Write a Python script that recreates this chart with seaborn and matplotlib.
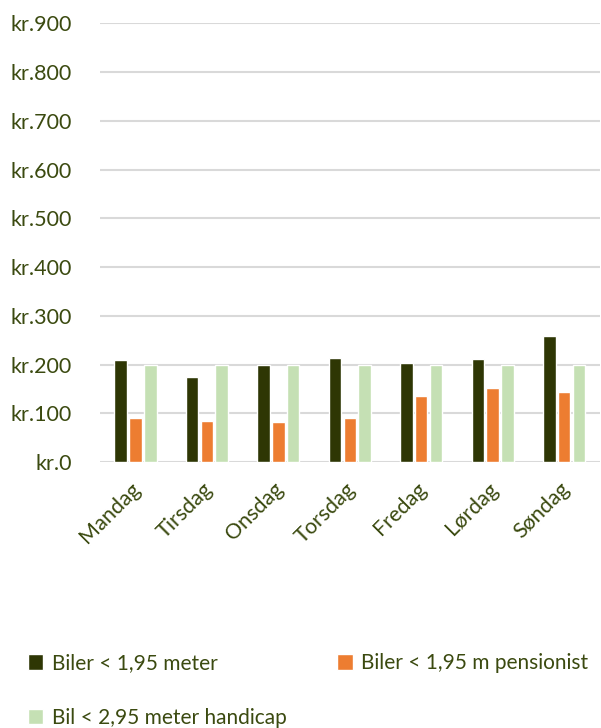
import pandas as pd
import matplotlib.pyplot as plt
import matplotlib.transforms as mtransforms
import seaborn as sns
from matplotlib.ticker import FuncFormatter

# Data
days = ['Mandag', 'Tirsdag', 'Onsdag', 'Torsdag', 'Fredag', 'Lørdag', 'Søndag']
series = ['Biler < 1,95 meter', 'Biler < 1,95 m pensionist', 'Bil < 2,95 meter handicap']
biler = [209, 174, 199, 213, 203, 212, 258]
pensionist = [90, 84, 82, 90, 135, 151, 143]
handicap = [200, 200, 200, 200, 200, 200, 200]

df = pd.DataFrame({
    'Dag': days * 3,
    'Serie': [series[0]] * 7 + [series[1]] * 7 + [series[2]] * 7,
    'Pris': biler + pensionist + handicap,
})

text_color = '#3B4A10'
palette = {series[0]: '#2E3604', series[1]: '#ED7D31', series[2]: '#C5E0B4'}

sns.set_style('white')
plt.rcParams['font.family'] = ['Lato', 'DejaVu Sans']

fig = plt.figure(figsize=(6.01, 7.28), dpi=100)
ax = fig.add_axes([0.166, 0.3654, 0.832, 0.6026])

sns.barplot(data=df, x='Dag', y='Pris', hue='Serie', palette=palette,
            width=0.62, gap=0.15, saturation=1, ax=ax, legend=True)

ax.set_ylim(0, 900)
ax.set_yticks(range(0, 901, 100))
ax.yaxis.set_major_formatter(FuncFormatter(lambda v, p: f'kr.{v:.0f}'))
ax.grid(axis='y', color='#D9D9D9', linewidth=1.5)
ax.set_axisbelow(True)
for s in ax.spines.values():
    s.set_visible(False)
ax.set_xlabel('')
ax.set_ylabel('')
ax.tick_params(axis='y', length=0, pad=20, labelsize=15.5, labelcolor=text_color)
ax.tick_params(axis='x', length=0, pad=12, labelsize=15.5, labelcolor=text_color)
# nudge rotated day labels a little left, like the original
shift = mtransforms.ScaledTranslation(-5 / 100, 0, fig.dpi_scale_trans)
for lbl in ax.get_xticklabels():
    lbl.set_rotation(45)
    lbl.set_ha('right')
    lbl.set_rotation_mode('anchor')
    lbl.set_transform(lbl.get_transform() + shift)

handles, labels = ax.get_legend_handles_labels()
ax.get_legend().remove()
order = [0, 2, 1]
fig.legend([handles[i] for i in order], [labels[i] for i in order],
           loc='upper left', bbox_to_anchor=(0.032, 0.114),
           ncol=2, frameon=False, fontsize=15, labelcolor=text_color,
           handlelength=0.75, handleheight=0.75, handletextpad=0.4,
           columnspacing=2.45, labelspacing=1.65, borderaxespad=0)

fig.savefig('out.png', dpi=100)
